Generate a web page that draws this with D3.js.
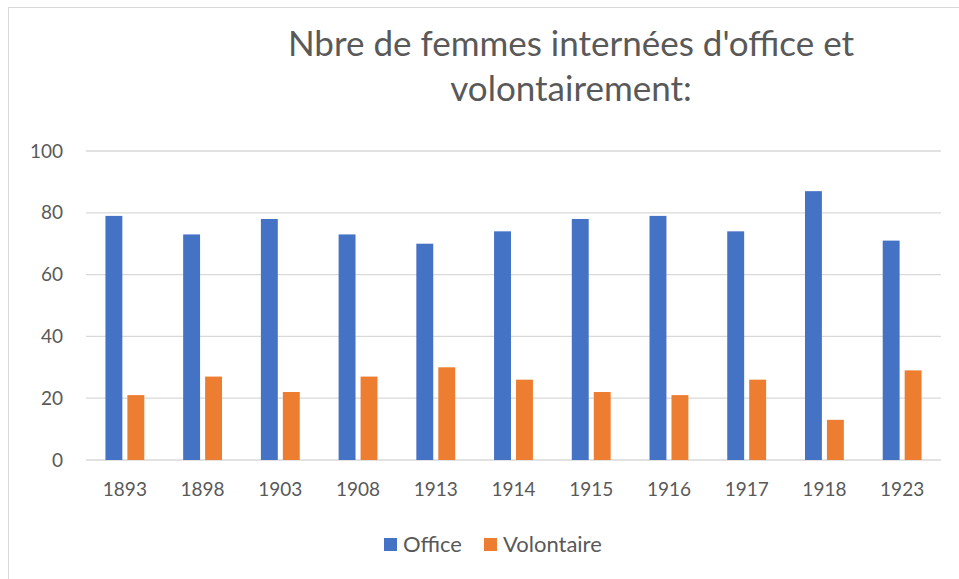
<!DOCTYPE html>
<html>
<head>
<meta charset="utf-8">
<script src="https://cdn.jsdelivr.net/npm/d3@7"></script>
<style>
  body { margin: 0; background: #fff; }
  text { font-family: Lato, "Open Sans", sans-serif; fill: #595959; }
</style>
</head>
<body>
<div id="chart-area"></div>
<script>
let years = ["1893", "1898", "1903", "1908", "1913", "1914", "1915", "1916", "1917", "1918", "1923"]
let office = [79, 73, 78, 73, 70, 74, 78, 79, 74, 87, 71]
let volontaire = [21, 27, 22, 27, 30, 26, 22, 21, 26, 13, 29]
let series = ["Office", "Volontaire"]
let colors = ["#4472c4", "#ed7d31"]
let yTicks = [0, 20, 40, 60, 80, 100]

let width = 959
let height = 579
let margin = {top: 151, right: 18, bottom: 119, left: 86}

let svg = d3.select("#chart-area")
  .append("svg")
    .attr("width", width)
    .attr("height", height)

// outer chart border (only top and left visible in the frame)
svg.append("rect")
  .attr("x", 8.5).attr("y", 7.5)
  .attr("width", 1200).attr("height", 700)
  .attr("fill", "none")
  .attr("stroke", "#d9d9d9")

let x0 = d3.scaleBand().domain(years).range([margin.left, width - margin.right])
let x1 = d3.scaleBand().domain(series)
  .range([x0.bandwidth() * 0.25, x0.bandwidth() * 0.75])
  .paddingInner(0.23)
let y = d3.scaleLinear().domain([0, 100]).range([height - margin.bottom, margin.top])

// gridlines
svg.append("g")
  .selectAll("line").data(yTicks).enter()
  .append("line")
    .attr("x1", margin.left).attr("x2", width - margin.right)
    .attr("y1", d => y(d)).attr("y2", d => y(d))
    .attr("stroke", "#d9d9d9").attr("stroke-width", 1.3)

let data = years.map((yr, i) => ({year: yr, values: [office[i], volontaire[i]]}))

let groups = svg.append("g").selectAll("g").data(data).enter()
  .append("g")
    .attr("transform", d => "translate(" + x0(d.year) + ",0)")

groups.selectAll("rect").data(d => d.values.map((v, j) => ({key: series[j], v: v, c: colors[j]})))
  .enter().append("rect")
    .attr("x", d => x1(d.key))
    .attr("y", d => y(d.v))
    .attr("width", x1.bandwidth())
    .attr("height", d => y(0) - y(d.v))
    .attr("fill", d => d.c)

// y axis
let leftAxis = d3.axisLeft(y).tickValues(yTicks).tickSize(0).tickPadding(0)
let ga = svg.append("g")
  .attr("transform", "translate(63,0)")
  .call(leftAxis)
ga.select(".domain").remove()
ga.selectAll("text").attr("font-size", "19px").attr("font-family", "Lato, sans-serif").attr("fill", "#595959")

// x axis
let bottomAxis = d3.axisBottom(x0).tickSize(0).tickPadding(0)
let gb = svg.append("g")
  .attr("transform", "translate(0," + (y(0) + 22) + ")")
  .call(bottomAxis)
gb.select(".domain").remove()
gb.selectAll("text").attr("font-size", "19px").attr("font-family", "Lato, sans-serif").attr("fill", "#595959")

// title
let title = svg.append("text")
  .attr("x", 571)
  .attr("text-anchor", "middle")
  .attr("font-size", "35px")
title.append("tspan").attr("x", 571).attr("y", 56).text("Nbre de femmes internées d'office et")
title.append("tspan").attr("x", 571).attr("y", 101).text("volontairement:")

// legend
let legendX = [384, 484]
let legend = svg.append("g").selectAll("g").data(series).enter()
  .append("g")
    .attr("transform", (d, i) => "translate(" + legendX[i] + ",538)")
legend.append("rect")
  .attr("width", 13).attr("height", 13)
  .attr("fill", (d, i) => colors[i])
legend.append("text")
  .attr("x", 19).attr("y", 14)
  .attr("font-size", "22px")
  .text(d => d)
</script>
</body>
</html>
